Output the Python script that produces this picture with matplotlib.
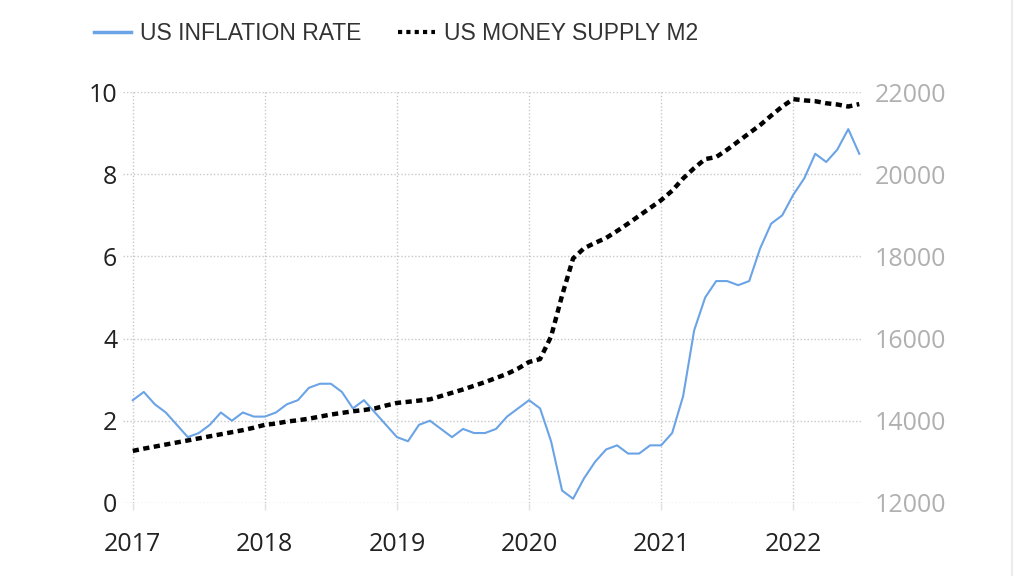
import matplotlib.pyplot as plt
from matplotlib.lines import Line2D
import numpy as np

# monthly values, Jan 2017 .. Jul 2022
inflation = [
    2.5, 2.7, 2.4, 2.2, 1.9, 1.6, 1.7, 1.9, 2.2, 2.0, 2.2, 2.1,   # 2017
    2.1, 2.2, 2.4, 2.5, 2.8, 2.9, 2.9, 2.7, 2.3, 2.5, 2.2, 1.9,   # 2018
    1.6, 1.5, 1.9, 2.0, 1.8, 1.6, 1.8, 1.7, 1.7, 1.8, 2.1, 2.3,   # 2019
    2.5, 2.3, 1.5, 0.3, 0.1, 0.6, 1.0, 1.3, 1.4, 1.2, 1.2, 1.4,   # 2020
    1.4, 1.7, 2.6, 4.2, 5.0, 5.4, 5.4, 5.3, 5.4, 6.2, 6.8, 7.0,   # 2021
    7.5, 7.9, 8.5, 8.3, 8.6, 9.1, 8.5,                            # 2022
]
money_m2 = [
    13265, 13320, 13370, 13420, 13470, 13520, 13570, 13620, 13670, 13720, 13770, 13830,
    13900, 13930, 13980, 14010, 14050, 14100, 14150, 14190, 14230, 14260, 14300, 14370,
    14433, 14460, 14490, 14520, 14600, 14680, 14760, 14850, 14940, 15040, 15140, 15270,
    15430, 15500, 16050, 17050, 17950, 18200, 18330, 18450, 18620, 18800, 18990, 19180,
    19370, 19600, 19900, 20150, 20370, 20420, 20600, 20800, 21000, 21200, 21430, 21650,
    21830, 21800, 21780, 21730, 21700, 21650, 21710,
]
years = [2017, 2018, 2019, 2020, 2021, 2022]
left_ticks = [0, 2, 4, 6, 8, 10]
right_ticks = [12000, 14000, 16000, 18000, 20000, 22000]

t = 2017 + np.arange(len(inflation)) / 12.0

blue = '#6aa3e6'
tick_font = ['Open Sans', 'DejaVu Sans']
legend_font = ['Liberation Sans', 'DejaVu Sans']

fig = plt.figure(figsize=(10.24, 5.76), dpi=100)
ax = fig.add_axes([0.120, 0.127, 0.723, 0.713])
ax2 = ax.twinx()

ax.plot(t, inflation, color=blue, linewidth=1.5, zorder=3)
ax2.plot(t, money_m2, color='black', linewidth=3.2, linestyle=(0, (1.4, 1.0)),
         dash_capstyle='butt', zorder=3)

ax.set_xlim(2016.925, 2022.53)
ax.set_ylim(0, 10)
ax2.set_ylim(12000, 22000)

ax.set_xticks(years)
ax.set_xticklabels([str(y) for y in years], fontsize=18, color='#222222', family=tick_font)
ax.set_yticks(left_ticks)
ax.set_yticklabels([str(v) for v in left_ticks], fontsize=18, color='#222222', family=tick_font)
ax2.set_yticks(right_ticks)
ax2.set_yticklabels([str(v) for v in right_ticks], fontsize=18, color='#b0b0b0', family=tick_font)

ax.grid(True, color='#c8c8c8', linestyle=(0, (1, 1.5)), linewidth=1.0)
ax.tick_params(axis='y', length=0, pad=4)
ax.tick_params(axis='x', length=5, width=1, color='#e0e0e0', pad=16)
ax2.tick_params(axis='y', length=0, pad=8)
for a in (ax, ax2):
    for s in a.spines.values():
        s.set_visible(False)

handles = [
    Line2D([], [], color=blue, linewidth=2.5),
    Line2D([], [], color='black', linewidth=3, linestyle=(0, (1, 1))),
]
fig.legend(handles, ['US INFLATION RATE', 'US MONEY SUPPLY M2'],
           loc='center left', bbox_to_anchor=(0.072, 0.942), ncol=2, frameon=False,
           prop={'family': legend_font, 'size': 16.5}, handlelength=1.6,
           handletextpad=0.4, columnspacing=1.6, labelcolor='#333333')

fig.add_artist(Line2D([0.988, 0.988], [0, 1], color='#ececec', linewidth=1.5))

fig.savefig('out.png', dpi=100)
